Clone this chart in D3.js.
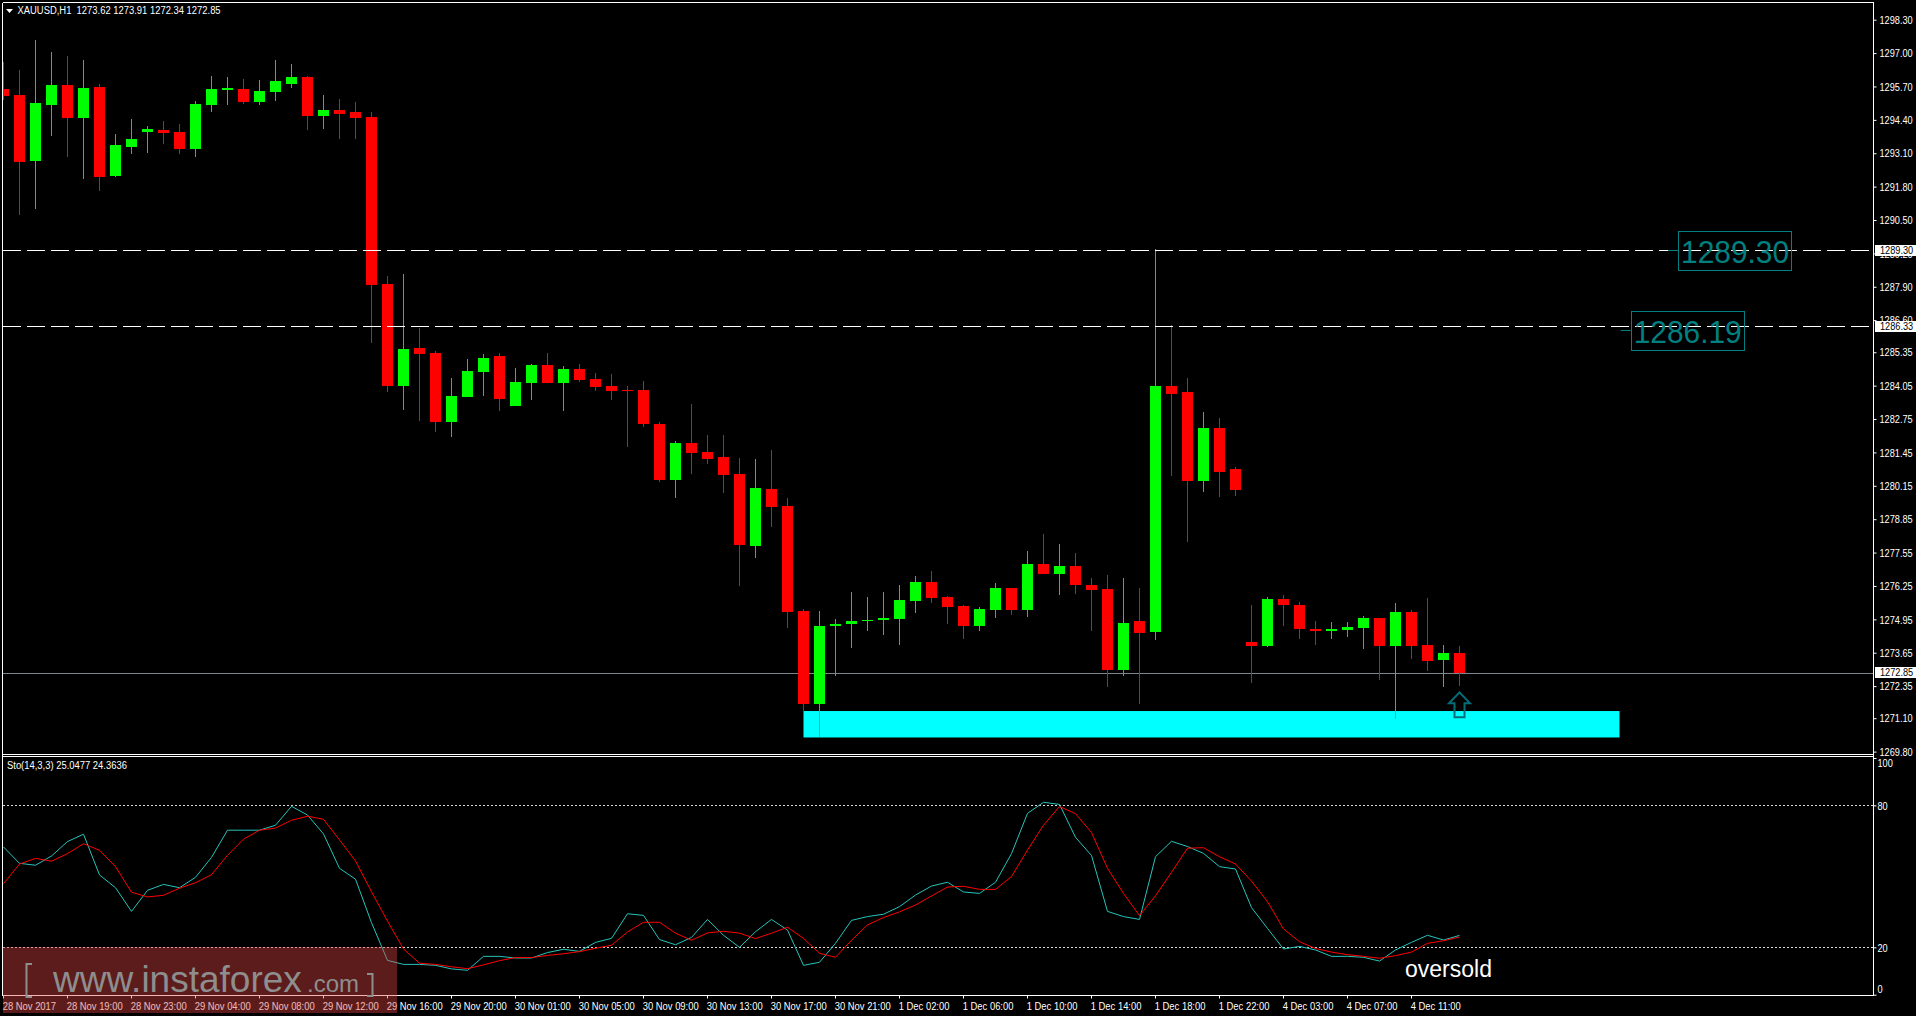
<!DOCTYPE html>
<html><head><meta charset="utf-8">
<script src="https://cdn.jsdelivr.net/npm/d3@7/dist/d3.min.js"></script>
<style>
html,body{margin:0;padding:0;background:#000;overflow:hidden}
svg{display:block}
text{font-family:"Liberation Sans",Arial,sans-serif;white-space:pre}
.axis text{fill:#fff;font-size:11.5px}
.axis line{stroke:#fff}
.axis path{display:none}
</style></head><body>
<svg id="c" width="1916" height="1016"></svg>
<script>
const opens=[1295.60,1295.37,1292.80,1294.98,1295.76,1294.47,1295.68,1292.22,1293.35,1293.93,
1294.01,1293.93,1293.27,1294.98,1295.57,1295.60,1295.10,1295.49,1295.80,1296.07,
1294.55,1294.79,1294.71,1294.51,1288.01,1284.04,1285.52,1285.32,1282.64,1283.61,
1284.58,1285.21,1283.26,1284.16,1284.86,1284.16,1284.70,1284.31,1284.04,1283.88,
1283.88,1282.56,1280.38,1281.82,1281.47,1281.27,1280.61,1277.81,1280.03,1279.37,
1275.28,1271.66,1274.69,1274.77,1274.89,1274.93,1274.97,1275.67,1276.41,1275.82,
1275.47,1274.69,1275.32,1276.17,1275.32,1277.11,1276.72,1277.03,1276.29,1276.13,
1272.98,1274.89,1274.46,1284.04,1283.80,1280.34,1282.40,1280.81,1274.07,1273.91,
1275.75,1275.51,1274.58,1274.50,1274.54,1274.62,1275.00,1273.91,1275.24,1273.95,
1273.37,1273.62];
const highs=[1296.66,1296.34,1297.51,1297.05,1296.89,1296.73,1295.80,1293.85,1294.44,1294.16,
1294.36,1294.24,1295.14,1296.11,1296.07,1296.00,1295.96,1296.73,1296.58,1296.11,
1295.37,1295.22,1295.10,1294.71,1288.32,1288.40,1286.30,1285.40,1284.35,1285.09,
1285.29,1285.32,1284.74,1284.90,1285.32,1284.82,1284.90,1284.55,1284.51,1284.04,
1284.23,1282.64,1281.90,1283.34,1282.13,1282.13,1281.24,1281.20,1281.55,1279.68,
1275.36,1275.28,1274.97,1276.02,1275.82,1276.02,1276.29,1276.64,1276.83,1275.86,
1275.51,1275.43,1276.37,1276.17,1277.61,1278.28,1277.89,1277.54,1276.56,1276.68,
1276.56,1276.17,1289.37,1286.41,1284.35,1283.03,1282.79,1280.88,1275.51,1275.82,
1275.90,1275.63,1274.89,1274.85,1274.85,1275.08,1275.00,1275.59,1275.32,1275.78,
1273.95,1273.91];
const lows=[1295.17,1290.70,1290.93,1293.77,1292.96,1292.10,1291.63,1292.18,1293.07,1293.11,
1293.46,1293.07,1292.96,1294.71,1294.98,1295.02,1294.98,1295.14,1295.64,1294.01,
1294.05,1293.66,1293.66,1285.71,1283.80,1283.10,1282.68,1282.25,1282.05,1283.61,
1283.65,1283.07,1283.26,1283.49,1284.16,1283.07,1284.19,1283.84,1283.49,1281.66,
1282.44,1280.30,1279.68,1280.61,1281.00,1279.87,1276.25,1277.34,1278.55,1274.61,
1271.35,1270.37,1272.75,1273.84,1274.50,1274.34,1273.95,1275.20,1275.59,1274.77,
1274.19,1274.50,1275.00,1275.12,1275.04,1276.72,1275.90,1275.94,1274.50,1272.32,
1272.75,1271.66,1274.15,1280.53,1277.96,1279.91,1279.72,1279.76,1272.47,1273.88,
1274.69,1274.19,1273.95,1274.19,1274.27,1273.80,1272.59,1271.07,1273.41,1272.94,
1272.32,1272.34];
const closes=[1295.33,1292.76,1295.06,1295.76,1294.47,1295.64,1292.18,1293.42,1293.66,1294.05,
1293.89,1293.27,1295.02,1295.60,1295.64,1295.10,1295.53,1295.92,1296.07,1294.55,
1294.79,1294.63,1294.47,1287.97,1284.04,1285.48,1285.29,1282.64,1283.65,1284.62,
1285.13,1283.53,1284.19,1284.86,1284.16,1284.70,1284.27,1284.00,1283.84,1283.84,
1282.56,1280.38,1281.82,1281.43,1281.20,1280.57,1277.85,1280.07,1279.33,1275.24,
1271.66,1274.69,1274.77,1274.89,1274.93,1275.00,1275.71,1276.41,1275.78,1275.43,
1274.69,1275.36,1276.17,1275.32,1277.11,1276.72,1277.03,1276.29,1276.10,1272.98,
1274.81,1274.42,1284.04,1283.73,1280.34,1282.40,1280.69,1279.99,1273.91,1275.75,
1275.51,1274.58,1274.50,1274.58,1274.66,1275.00,1273.91,1275.24,1273.91,1273.33,
1273.64,1272.85];
const stochMain=[62.4,55.5,54.7,58.6,64.7,67.8,50.6,45.2,35.2,44.1,
46.6,45.2,49.6,58.0,69.5,69.5,69.5,71.6,79.6,75.9,
67.9,53.4,48.8,30.4,14.5,12.8,12.8,12.4,10.9,10.3,
16.2,16.2,15.5,15.5,17.8,19.2,18.3,22.1,23.8,34.2,
33.5,23.3,21.1,24.2,31.8,25.1,20.0,26.6,31.8,27.3,
12.4,13.7,21.7,31.4,33.0,34.0,37.2,42.1,45.9,47.5,
43.4,42.8,47.5,59.6,76.6,81.3,80.4,66.5,58.8,35.2,
33.0,31.8,58.3,64.8,62.6,59.7,54.1,53.1,36.8,28.0,
19.3,20.4,18.9,16.2,16.2,15.8,14.2,18.9,22.1,25.1,
23.1,25.05];
const stochSignal=[46.9,55.2,57.6,56.4,59.6,63.8,61.0,54.1,43.3,41.3,
42.0,45.0,47.3,50.7,58.9,65.7,69.5,70.4,73.7,75.4,
74.1,65.4,56.5,43.5,31.1,19.3,13.3,12.8,11.8,11.0,
12.6,14.4,15.7,15.7,16.6,17.3,18.2,19.6,20.9,26.5,
30.6,30.6,26.0,23.0,26.1,26.8,26.0,23.7,26.0,28.5,
23.8,17.5,15.8,23.0,29.5,32.6,35.0,37.9,41.7,45.5,
45.8,44.5,44.5,49.9,61.1,71.6,79.5,76.5,68.5,53.4,
42.8,33.4,41.8,51.7,61.9,62.1,58.3,55.2,48.0,39.3,
27.8,22.4,19.5,18.0,16.9,16.2,15.4,16.5,18.0,21.7,
22.8,24.36];
const priceTicks=[1298.30,1297.00,1295.70,1294.40,1293.10,1291.80,1290.50,1289.20,1287.90,1286.60,1285.35,1284.05,1282.75,1281.45,1280.15,1278.85,1277.55,1276.25,1274.95,1273.65,1272.35,1271.10,1269.80];
const stochTicks=[100,80,20,0];
const timeBars=[0,4,8,12,16,20,24,28,32,36,40,44,48,52,56,60,64,68,72,76,80,84,88];
const timeLabels=["28 Nov 2017","28 Nov 19:00","28 Nov 23:00","29 Nov 04:00","29 Nov 08:00","29 Nov 12:00","29 Nov 16:00","29 Nov 20:00","30 Nov 01:00","30 Nov 05:00","30 Nov 09:00","30 Nov 13:00","30 Nov 17:00","30 Nov 21:00","1 Dec 02:00","1 Dec 06:00","1 Dec 10:00","1 Dec 14:00","1 Dec 18:00","1 Dec 22:00","4 Dec 03:00","4 Dec 07:00","4 Dec 11:00"];
const dashedLevels=[1289.30,1286.33];
const lastPrice=1272.85;
const zonePrices=[1271.38,1270.35];
const zoneBars=[50,101];
const calloutTexts=["1289.30","1286.19"];
const calloutBars=[104.66,101.7];
const calloutPrices=[1289.30,1286.33];

const L=3,R=1873;
const x=d3.scaleLinear().domain([0,91]).range([3.5,1459.5]);
const y=d3.scaleLinear().domain([1298.30,1269.80]).range([19.7,751.6]);
const ys=d3.scaleLinear().domain([100,0]).range([758,994.7]);
const svg=d3.select("#c");
// horizontal squeeze about the text's own left edge, keeping any earlier transform
function sq(sel,f){sel.each(function(){
  const x0=+(this.getAttribute("x")||0), prev=this.getAttribute("transform")||"";
  this.setAttribute("transform",`${prev} translate(${x0*(1-f)},0) scale(${f},1)`);
});return sel;}
svg.append("rect").attr("width",1916).attr("height",1016).attr("fill","#000");
svg.append("clipPath").attr("id","cp").append("rect").attr("x",L).attr("y",3).attr("width",R-L).attr("height",990);
const plot=svg.append("g").attr("clip-path","url(#cp)");

plot.append("rect").attr("x",x(zoneBars[0])).attr("width",x(zoneBars[1])-x(zoneBars[0]))
 .attr("y",y(zonePrices[0])).attr("height",y(zonePrices[1])-y(zonePrices[0])).attr("fill","#00ffff");
plot.append("line").attr("x1",L).attr("x2",R).attr("y1",Math.round(y(lastPrice)-.6)+.5).attr("y2",Math.round(y(lastPrice)-.6)+.5)
 .attr("stroke","#7d868c").attr("stroke-width",1);
const idx=d3.range(opens.length);
const up=i=>closes[i]>=opens[i];
plot.selectAll(".w").data(idx).join("line").attr("class","w")
 .attr("x1",i=>x(i)).attr("x2",i=>x(i)).attr("y1",i=>y(highs[i])).attr("y2",i=>y(lows[i]))
 .attr("stroke",i=>up(i)?"#22d022":"#e01010").attr("stroke-width",1).attr("shape-rendering","crispEdges");
plot.selectAll(".b").data(idx).join("rect").attr("class","b")
 .attr("x",i=>x(i)-5.5).attr("width",11)
 .attr("y",i=>y(Math.max(opens[i],closes[i])))
 .attr("height",i=>Math.max(1,Math.abs(y(opens[i])-y(closes[i]))))
 .attr("fill",i=>up(i)?"#00ff00":"#ff0000").attr("shape-rendering","crispEdges");
plot.selectAll(".lv").data(dashedLevels).join("line").attr("class","lv")
 .attr("x1",L).attr("x2",R-3).attr("y1",d=>Math.floor(y(d)-.3)+.5).attr("y2",d=>Math.floor(y(d)-.3)+.5)
 .attr("stroke","#fff").attr("stroke-dasharray","18 6").attr("stroke-width",1);
plot.selectAll(".sl").data([80,20]).join("line").attr("class","sl")
 .attr("x1",L).attr("x2",R).attr("y1",d=>Math.round(ys(d))+.5).attr("y2",d=>Math.round(ys(d))+.5)
 .attr("stroke","#d8d8d8").attr("stroke-dasharray","2 2").attr("stroke-width",1);
const ln=d3.line().x((d,i)=>x(i)).y(d=>ys(d));
plot.append("path").attr("d",ln(stochMain)).attr("fill","none").attr("stroke","#26c4bb").attr("stroke-width",1);
plot.append("path").attr("d",ln(stochSignal)).attr("fill","none").attr("stroke","#ff0000").attr("stroke-width",1);

const f=svg.append("g").attr("stroke","#fff").attr("stroke-width",1).attr("shape-rendering","crispEdges");
[[2.5,2.5,R+.5,2.5],[2.5,754.5,R+.5,754.5],[2.5,756.5,R+.5,756.5],[2.5,995.5,R+.5,995.5],[2.5,2.5,2.5,995.5],[R+.5,2.5,R+.5,995.5]]
 .forEach(a=>f.append("line").attr("x1",a[0]).attr("y1",a[1]).attr("x2",a[2]).attr("y2",a[3]));

const ay=svg.append("g").attr("class","axis").attr("transform",`translate(${R+.5},0)`)
 .call(d3.axisRight(y).tickValues(priceTicks).tickFormat(d3.format(".2f")).tickSize(3).tickPadding(3));
sq(ay.selectAll("text"),.8);
const as=svg.append("g").attr("class","axis").attr("transform",`translate(${R+.5},0)`)
 .call(d3.axisRight(ys).tickValues(stochTicks).tickFormat(d3.format("d")).tickSize(3).tickPadding(1));
as.selectAll("text").attr("transform",d=>d===100?"translate(0,5)":d===0?"translate(0,-6)":null);
sq(as.selectAll("text"),.8);
const ax=svg.append("g").attr("class","axis").attr("transform","translate(0,995.5)")
 .call(d3.axisBottom(d3.scaleLinear().domain([0,91]).range([3,1459])).tickValues(timeBars).tickFormat((d,i)=>timeLabels[i]).tickSize(3).tickPadding(3));
ax.selectAll("text").attr("text-anchor","start").attr("dx",-1);
sq(ax.selectAll("text"),.82);

[1289.30,1286.33,lastPrice].forEach(p=>{
 const yy=Math.floor(y(p)-.3);
 svg.append("rect").attr("x",1875).attr("y",yy-5).attr("width",41).attr("height",11).attr("fill","#fff");
 sq(svg.append("text").attr("x",1880).attr("y",yy+4.5).attr("fill","#000").style("font-size","11.5px").text(d3.format(".2f")(p)),.8);
});

svg.append("path").attr("d","M6 9L13 9L9.5 13Z").attr("fill","#fff");
sq(svg.append("text").attr("x",17.5).attr("y",14.5).attr("fill","#fff").style("font-size","11.5px")
 .text("XAUUSD,H1  1273.62 1273.91 1272.34 1272.85"),.82);
sq(svg.append("text").attr("x",7).attr("y",769.5).attr("fill","#fff").style("font-size","11.5px")
 .text("Sto(14,3,3) 25.0477 24.3636"),.82);

calloutTexts.forEach((t,k)=>{
 const bx=x(calloutBars[k]), cy=y(calloutPrices[k]);
 const first=k===0;
 const g=svg.append("g");
 const lineY=Math.floor(cy+(first?-.3:3.5))+.5;
 g.append("line").attr("x1",bx-10).attr("x2",bx).attr("y1",lineY).attr("y2",lineY).attr("stroke","#008080");
 g.append("rect").attr("x",Math.round(bx)+.5).attr("y",Math.round(first?cy-19.5:cy-16)+.5).attr("width",113).attr("height",39).attr("fill","none").attr("stroke","#008080");
 const tx=g.append("text").attr("x",bx+3).attr("y",first?cy+12.5:cy+16).attr("fill","#008080").style("font-size","32px").text(t);
 tx.attr("textLength",108).attr("lengthAdjust","spacingAndGlyphs");
});

const ax0=x(91), ay0=y(1272.34)+6;
svg.append("path").attr("d",`M${ax0} ${ay0}l-10.5 11h5.5v14h10v-14h5.5z`).attr("fill","none").attr("stroke","#056d78").attr("stroke-width",2);

svg.append("text").attr("x",1405).attr("y",977).attr("fill","#fff").style("font-size","23px").text("oversold");

svg.append("rect").attr("x",3).attr("y",947).attr("width",394).attr("height",66).attr("fill","rgba(230,70,70,0.4)");
const wm=svg.append("g").attr("fill","#8e8e8e");
wm.append("text").attr("x",53).attr("y",992).style("font-size","37px").text("www.instaforex");
wm.append("text").attr("x",307).attr("y",992).style("font-size","24px").text(".com");
wm.append("path").attr("d","M32 964H26.5V997H32M367 974H372.5V996H367").attr("fill","none").attr("stroke","#8e8e8e").attr("stroke-width",2);
</script>
</body></html>
